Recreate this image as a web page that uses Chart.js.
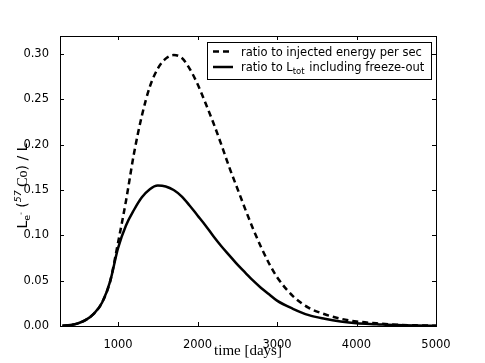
<!DOCTYPE html>
<html>
<head>
<meta charset="utf-8">
<script src="https://cdn.jsdelivr.net/npm/chart.js@4.4.1/dist/chart.umd.min.js"></script>
<style>
  html, body { margin: 0; padding: 0; background: #fff; }
  #wrap { width: 485px; height: 363px; }
</style>
</head>
<body>
<div id="wrap"><canvas id="myChart" width="485" height="363"></canvas></div>
<script>
// values
const days = [300, 400, 500, 600, 700, 800, 900, 1000, 1100, 1200, 1300, 1400, 1500, 1600, 1700, 1800, 1900,
              2000, 2100, 2200, 2300, 2400, 2500, 2600, 2700, 2800, 2900, 3000, 3200, 3400, 3600, 3800,
              4000, 4250, 4500, 4750, 5000];
const ratioInjected = [0.0002, 0.001, 0.003, 0.007, 0.014, 0.026, 0.049, 0.092, 0.138, 0.190, 0.232, 0.264, 0.284, 0.295, 0.299, 0.296, 0.284,
                       0.267, 0.246, 0.224, 0.200, 0.175, 0.152, 0.129, 0.107, 0.087, 0.069, 0.054, 0.033, 0.020, 0.013, 0.008,
                       0.005, 0.003, 0.0015, 0.0007, 0.0003];
const ratioLtot = [0.0002, 0.001, 0.003, 0.007, 0.014, 0.026, 0.049, 0.086, 0.111, 0.128, 0.142, 0.151, 0.155, 0.154, 0.150, 0.143, 0.133,
                   0.122, 0.111, 0.099, 0.088, 0.078, 0.068, 0.059, 0.050, 0.042, 0.035, 0.028, 0.019, 0.012, 0.008, 0.005,
                   0.003, 0.002, 0.001, 0.0005, 0.0002];
const xTicks = [1000, 2000, 3000, 4000, 5000];
const yTicks = [0, 0.05, 0.10, 0.15, 0.20, 0.25, 0.30];

const tickFont = { family: 'DejaVu Sans', size: 11.5 };

// box, inward ticks on all four sides, legend and the y title with sub/superscripts
const framePlugin = {
  id: 'frame',
  afterDraw(chart) {
    const ctx = chart.ctx;
    const a = chart.chartArea;
    const xs = chart.scales.x, ys = chart.scales.y;
    ctx.save();
    ctx.strokeStyle = '#000';
    ctx.lineWidth = 1;
    ctx.strokeRect(Math.round(a.left) + 0.5, Math.round(a.top) + 0.5,
                   Math.round(a.right - a.left), Math.round(a.bottom - a.top));
    ctx.beginPath();
    xTicks.forEach(v => {
      const px = Math.round(xs.getPixelForValue(v)) + 0.5;
      ctx.moveTo(px, a.bottom); ctx.lineTo(px, a.bottom - 4);
      ctx.moveTo(px, a.top); ctx.lineTo(px, a.top + 4);
    });
    yTicks.forEach(v => {
      const py = Math.round(ys.getPixelForValue(v)) + 0.5;
      ctx.moveTo(a.left, py); ctx.lineTo(a.left + 4, py);
      ctx.moveTo(a.right, py); ctx.lineTo(a.right - 4, py);
    });
    ctx.stroke();

    // legend
    ctx.fillStyle = '#fff';
    ctx.fillRect(207.5, 42.5, 224, 37);
    ctx.strokeRect(207.5, 42.5, 224, 37);
    ctx.lineWidth = 2.5;
    ctx.setLineDash([6, 4]);
    ctx.beginPath(); ctx.moveTo(213, 51.5); ctx.lineTo(233, 51.5); ctx.stroke();
    ctx.setLineDash([]);
    ctx.beginPath(); ctx.moveTo(213, 67); ctx.lineTo(233, 67); ctx.stroke();
    ctx.fillStyle = '#000';
    ctx.textBaseline = 'alphabetic';
    ctx.font = '11.5px "DejaVu Sans"';
    ctx.fillText('ratio to injected energy per sec', 241, 56);
    let x = 241;
    ctx.fillText('ratio to L', x, 71);
    x += ctx.measureText('ratio to L').width;
    ctx.font = '8.5px "DejaVu Sans"';
    ctx.fillText('tot', x, 74);
    x += ctx.measureText('tot').width + 1;
    ctx.font = '11.5px "DejaVu Sans"';
    ctx.fillText(' including freeze-out', x, 71);

    // y axis title, rotated
    const parts = [
      { t: 'L', f: '14px "DejaVu Sans"', dy: 0 },
      { t: 'e', f: '9.5px "DejaVu Sans"', dy: 3 },
      { t: '-', f: '7px "DejaVu Sans"', dy: -4 },
      { t: ' (', f: '14px "DejaVu Sans"', dy: 0 },
      { t: '57', f: 'italic 9.5px "DejaVu Sans"', dy: -6 },
      { t: ' Co', f: '14px "Liberation Serif"', dy: 0 },
      { t: ') / L', f: '14px "DejaVu Sans"', dy: 0 }
    ];
    let total = 0;
    parts.forEach(p => { ctx.font = p.f; p.w = ctx.measureText(p.t).width; total += p.w; });
    ctx.translate(27, 186);
    ctx.rotate(-Math.PI / 2);
    let cx = -total / 2;
    parts.forEach(p => { ctx.font = p.f; ctx.fillText(p.t, cx, p.dy); cx += p.w; });
    ctx.restore();
  }
};

const ctx = document.getElementById('myChart').getContext('2d');
window.chart = new Chart(ctx, {
  type: 'line',
  data: {
    datasets: [{
      label: 'ratio to injected energy per sec',
      data: days.map((d, i) => ({ x: d, y: ratioInjected[i] })),
      borderColor: '#000',
      borderWidth: 2.5,
      borderDash: [6, 4],
      pointRadius: 0,
      cubicInterpolationMode: 'monotone',
      fill: false
    }, {
      label: 'ratio to L_tot including freeze-out',
      data: days.map((d, i) => ({ x: d, y: ratioLtot[i] })),
      borderColor: '#000',
      borderWidth: 2.5,
      pointRadius: 0,
      cubicInterpolationMode: 'monotone',
      fill: false
    }]
  },
  options: {
    responsive: false,
    animation: false,
    devicePixelRatio: 1,
    layout: { padding: { top: 36, right: 49, left: 0, bottom: 0 } },
    plugins: { legend: { display: false }, tooltip: { enabled: false } },
    scales: {
      x: {
        type: 'linear',
        min: 270,
        max: 5000,
        afterBuildTicks: s => { s.ticks = xTicks.map(v => ({ value: v })); },
        afterFit: s => { s.height = 37; },
        grid: { display: false },
        border: { display: false },
        ticks: { font: tickFont, color: '#000', padding: 4, maxRotation: 0, autoSkip: false,
                 callback: v => String(v) },
        title: { display: true, text: 'time [days]', color: '#000',
                 font: { family: 'Liberation Serif', size: 15 }, padding: { top: 0, bottom: 3 } }
      },
      y: {
        min: 0,
        max: 0.32,
        afterBuildTicks: s => { s.ticks = yTicks.map(v => ({ value: v })); },
        afterFit: s => { s.width = 60; },
        grid: { display: false },
        border: { display: false },
        ticks: { font: tickFont, color: '#000', padding: 3, callback: v => v.toFixed(2) }
      }
    }
  },
  plugins: [framePlugin]
});
</script>
</body>
</html>
